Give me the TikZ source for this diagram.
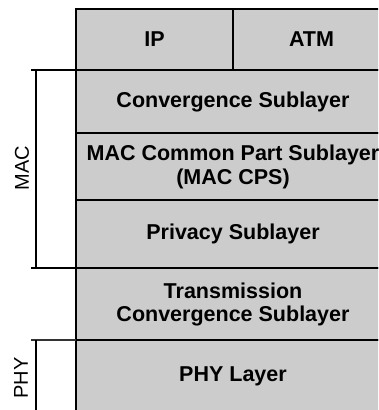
\documentclass[tikz,border=0pt]{standalone}
\usepackage{fontspec}
\setmainfont{Liberation Sans}
\definecolor{layergray}{HTML}{CCCCCC}
\begin{document}
\begin{tikzpicture}[x=1pt,y=-1pt,
  layer/.style={draw=black, line width=2pt, fill=layergray, anchor=north west,
    inner sep=0pt, outer sep=0pt, align=center,
    font=\fontsize{21.5}{24}\selectfont\bfseries},
  side/.style={font=\fontsize{20}{22}\selectfont, rotate=90},
  bracket/.style={line width=2pt}]
\useasboundingbox (0,0) rectangle (378,410);
\clip (0,0) rectangle (378,410);

% protocol stack
\node[layer, minimum width=157pt, minimum height=61pt] (ip)   at (76,9)   {IP};
\node[layer, minimum width=157pt, minimum height=61pt] (atm)  at (233,9)  {ATM};
\node[layer, minimum width=314pt, minimum height=63pt] (cs)   at (76,70)  {Convergence Sublayer};
\node[layer, minimum width=314pt, minimum height=67pt] (cps)  at (76,133) {MAC Common Part Sublayer\\(MAC CPS)};
\node[layer, minimum width=314pt, minimum height=68pt] (priv) at (76,200) {Privacy Sublayer};
\node[layer, minimum width=314pt, minimum height=72pt] (tc)   at (76,268) {Transmission\\[-1pt]Convergence Sublayer};
\node[layer, minimum width=314pt, minimum height=80pt] (phy)  at (76,340) {\raisebox{12pt}{PHY Layer}};

% MAC bracket
\coordinate (macT) at (31,70);
\coordinate (macB) at (31,268);
\draw[bracket] (macT) -- (macT -| cs.west);
\draw[bracket] (macB) -- (macB -| priv.west);
\draw[bracket] ([xshift=5pt]macT) -- ([xshift=5pt]macB);
\node[side] (mac) at (22,168) {MAC};

% PHY bracket
\coordinate (phyT) at (31,340);
\coordinate (phyB) at (36,420);
\draw[line width=1.3pt, black!80] (phyT) -- (phyT -| phy.west);
\draw[bracket] (36,340) -- (phyB);
\node[side] (phylbl) at (21,378) {PHY};
\end{tikzpicture}
\end{document}
